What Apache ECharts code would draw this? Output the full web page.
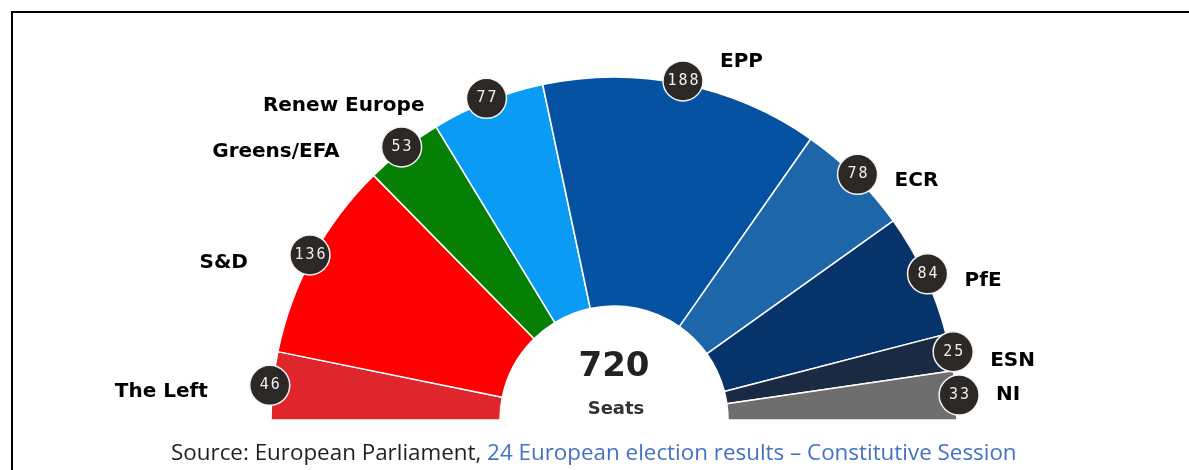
<!DOCTYPE html>
<html><head><meta charset="utf-8">
<script src="https://cdn.jsdelivr.net/npm/echarts@6/dist/echarts.min.js"></script>
<style>
html,body{margin:0;padding:0;background:#fff;overflow:hidden;}
#frame{position:absolute;left:11px;top:11px;width:1300px;height:600px;border-top:2px solid #000;border-left:2px solid #000;}
#chart{position:absolute;left:0;top:0;width:1189px;height:470px;}
</style></head><body>
<div id="frame"></div>
<div id="chart"></div>
<script>
// ---- data ----
const parties = ['The Left', 'S&D', 'Greens/EFA', 'Renew Europe', 'EPP', 'ECR', 'PfE', 'ESN', 'NI'];
const seats = [46, 136, 53, 77, 188, 78, 84, 25, 33];
const centerCaption = 'Seats';
const sourcePrefix = 'Source: European Parliament, ';
const sourceLink = '24 European election results – Constitutive Session';

// ---- styles ----
const partyColors = ['#de262c', '#fe0000', '#058005', '#0a9cf5', '#0452a1', '#1e66aa', '#06336a', '#1b2a43', '#6e6e6e'];
const nameOffsets = {
  'The Left': [0, 6], 'S&D': [0, 8], 'Greens/EFA': [0, 5], 'Renew Europe': [0, 7],
  'EPP': [0, -19], 'ECR': [0, 7], 'PfE': [0, 7], 'ESN': [0, 9], 'NI': [0, 0]
};
const CX = 614, CY = 420, R_IN = 114, R_OUT = 343, R_BADGE = 346;

const total = seats.reduce((a, b) => a + b, 0);
let cum = 0;
const mids = seats.map(v => { const m = cum + v / 2; cum += v; return m; });

const pieData = parties.map((p, i) => ({ name: p, value: seats[i], itemStyle: { color: partyColors[i] } }));
const badgeData = parties.map((p, i) => ({ name: p, value: [R_BADGE, mids[i], seats[i]] }));
const nameData = parties.map((p, i) => {
  const left = mids[i] < total / 2;
  return {
    name: p, value: [R_BADGE, mids[i]],
    label: { position: left ? 'left' : 'right', distance: left ? 42 : 17, offset: nameOffsets[p] }
  };
});

const chart = echarts.init(document.getElementById('chart'), null, { renderer: 'canvas' });
chart.setOption({
  animation: false,
  title: [
    { text: String(total), left: CX, top: 350, textAlign: 'center', padding: 0,
      textStyle: { fontSize: 34, fontWeight: 'bold', color: '#222', fontFamily: 'DejaVu Sans' } },
    { text: centerCaption, left: CX + 2, top: 400, textAlign: 'center', padding: 0,
      textStyle: { fontSize: 18, fontWeight: 'bold', color: '#333', fontFamily: 'DejaVu Sans' } },
    { text: '{a|' + sourcePrefix + '}{b|' + sourceLink + '}', left: 171, top: 443, padding: 0,
      textStyle: { fontWeight: 'normal', rich: {
        a: { fontSize: 22.4, fontWeight: 'normal', color: '#1f1f1f', fontFamily: 'Open Sans' },
        b: { fontSize: 22.4, fontWeight: 'normal', color: '#4472c4', fontFamily: 'Open Sans' } } } }
  ],
  polar: { center: [CX, CY], radius: 400 },
  radiusAxis: { type: 'value', min: 0, max: 400, show: false },
  angleAxis: { type: 'value', min: 0, max: total * 2, startAngle: 180, clockwise: true, show: false },
  series: [
    {
      type: 'pie', center: [CX, CY], radius: [R_IN, R_OUT], startAngle: 180, endAngle: 0,
      clockwise: true, silent: true, avoidLabelOverlap: false,
      label: { show: false }, labelLine: { show: false },
      itemStyle: { borderColor: '#ffffff', borderWidth: 1.5 },
      data: pieData
    },
    {
      type: 'scatter', coordinateSystem: 'polar', clip: false, silent: true,
      symbol: 'circle', symbolSize: 40,
      itemStyle: { color: '#2b2826', borderColor: '#f4f4f4', borderWidth: 1.5, opacity: 1 },
      label: {
        show: true, position: 'inside',
        formatter: p => String(p.value[2]).split('').map(c => '{d|' + c + '}').join(''),
        rich: { d: { width: 11, align: 'center', fontSize: 15, color: '#eeeeee', fontFamily: 'DejaVu Sans Mono' } }
      },
      data: badgeData
    },
    {
      type: 'scatter', coordinateSystem: 'polar', clip: false, silent: true,
      symbol: 'circle', symbolSize: 40,
      itemStyle: { color: 'rgba(255,255,255,0)', opacity: 1 },
      label: { show: true, formatter: '{b}', fontSize: 20, fontWeight: 'bold', color: '#000000', opacity: 1,
        fontFamily: 'DejaVu Sans', textBorderWidth: 0 },
      data: nameData
    }
  ]
});
</script>
</body></html>
